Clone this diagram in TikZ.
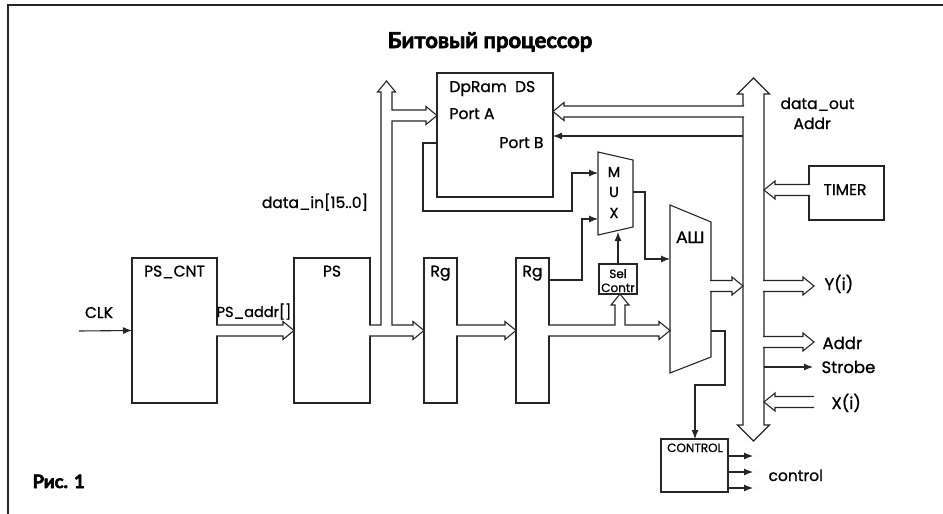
\documentclass[tikz,border=0pt]{standalone}
\usepackage{fontspec}
\setmainfont{Poppins}[FakeBold=1]
\newfontfamily\cyrfont{Lato}[FakeBold=1.5]
\newfontfamily\headfont{Lato}[FakeBold=3]
\usepackage{tikz}
\usetikzlibrary{arrows.meta,calc}
% hollow bus arrow: start, tip, direction (1 = right, -1 = left)
\newcommand{\hbus}[3]{%
  \filldraw[bus] let \p1=#1, \p2=#2 in
    (\x1,{\y2+5.5pt}) -- ({\x2-(#3)*11pt},{\y2+5.5pt}) -- ({\x2-(#3)*11pt},{\y2+9pt})
    -- (\x2,\y2) -- ({\x2-(#3)*11pt},{\y2-9pt}) -- ({\x2-(#3)*11pt},{\y2-5.5pt})
    -- (\x1,{\y2-5.5pt});}

\begin{document}
\begin{tikzpicture}[x=1pt, y=-1pt, line width=1.1pt, color=black!85, text=black,
    font=\fontsize{15.5}{18}\selectfont, >={Latex[length=9pt,width=7pt]},
    box/.style={draw, inner sep=0pt, outer sep=0pt},
    lbl/.style={anchor=base, yshift=-18.5pt, inner sep=0pt},
    txt/.style={inner sep=0pt, anchor=base},
    big/.style={inner sep=0pt, anchor=base west, font=\fontsize{16.5}{19}\selectfont},
    small/.style={inner sep=0pt, anchor=base, font=\fontsize{12}{13}\selectfont},
    bus/.style={fill=white}]
  \useasboundingbox (0,0) rectangle (943,514);
  % frame and captions
  \draw (8,514) -- (8,5) -- (943,5);
  \node[txt, font=\headfont\bfseries\fontsize{22}{24}\selectfont] (title) at (490,48) {Битовый процессор};
  \node[txt, anchor=base west, font=\headfont\bfseries\fontsize{18.5}{20}\selectfont] (fig) at (32,488) {Рис. 1};

  % blocks
  \node[box, minimum width=85pt, minimum height=145pt, label={[lbl]north:PS\_CNT}] (pscnt) at (174.5,330.5) {};
  \node[box, minimum width=76pt, minimum height=145pt, label={[lbl]north:PS}] (ps) at (332,330.5) {};
  \node[box, minimum width=33pt, minimum height=145pt, label={[lbl]north:Rg}] (rg1) at (440.5,330.5) {};
  \node[box, minimum width=33pt, minimum height=145pt, label={[lbl]north:Rg}] (rg2) at (532.5,330.5) {};
  \node[box, minimum width=116pt, minimum height=124pt] (dpram) at (495,135) {};
  \node[box, minimum width=75pt, minimum height=54pt] (timer) at (846.5,193) {};
  \node[box, minimum width=38pt, minimum height=30pt] (sel) at (618,279) {};
  \node[box, minimum width=67pt, minimum height=53pt] (ctrl) at (694.5,465.5) {};
  \node[txt] (timerlbl) at (845,195) {TIMER};
  \node[small] (sellbl) at (618,278) {Sel};
  \node[small] (contrlbl) at (618,292) {Contr};
  \node[small] (ctrllbl) at (695,452) {CONTROL};
  \node[txt, anchor=base west] (dplbl) at (449,92) {DpRam\ \ DS};
  \node[txt, anchor=base west] (porta) at (449,119) {Port A};
  \node[txt, anchor=base east] (portb) at (544,148) {Port B};

  % mux and shifter
  \draw (598,152) -- (633,160) -- (633,227) -- (598,235) -- cycle;
  \foreach \c/\y in {M/177,U/197,X/218}
    \node[txt, font=\fontsize{14.5}{16}\selectfont] (mux\c) at (614,\y) {\c};
  \draw (670,205) -- (711,222) -- (711,357) -- (670,373) -- cycle;
  \node[txt, font=\cyrfont\fontsize{16}{18}\selectfont] (ash) at (690.5,243) {АШ};

  % output bus
  \coordinate (busL) at (743,0);
  \coordinate (busR) at (764,0);
  \filldraw[bus] (743,94) -- (737.5,94) -- (753.5,78) -- (769.5,94) -- (764,94) -- (764,425)
    -- (769.5,425) -- (753.5,441) -- (737.5,425) -- (743,425) -- cycle;

  % buses
  \filldraw[bus] (369,325) -- (381,325) -- (381,92) -- (377.5,92) -- (386.5,81) -- (395.5,92)
    -- (392,92) -- (392,110) -- (426,110) -- (426,106.5) -- (437,115.5) -- (426,124.5)
    -- (426,121) -- (392,121) -- (392,325) -- (413,325) -- (413,321.5) -- (424,330.5)
    -- (413,339.5) -- (413,336) -- (369,336);
  \hbus{([xshift=-1pt]pscnt.east)}{(ps.west)}{1}
  \hbus{([xshift=-1pt]rg1.east)}{(rg2.west)}{1}
  \filldraw[bus] (548,325) -- (615,325) -- (615,305) -- (611,305) -- (620,294) -- (629,305)
    -- (625,305) -- (625,325) -- (659,325) -- (659,321.5) -- (670,330.5) -- (659,339.5)
    -- (659,336) -- (548,336);
  \hbus{(744,111.5)}{(dpram.east |- 0,111.5)}{-1}
  \hbus{(710,286)}{(busL |- 0,286)}{1}
  \hbus{(763,286)}{(814,286)}{1}
  \hbus{(763,342)}{(814,342)}{1}
  \hbus{(814,402)}{(busR |- 0,402)}{-1}
  \hbus{([xshift=1pt]timer.west |- 0,190)}{(busR |- 0,190)}{-1}

  % signals
  \draw[->] (79,331) -- (pscnt.west);
  \draw[->] (busL |- 0,136) -- (dpram.east |- 0,136);
  \draw[->] (dpram.west |- 0,143) -- (423,143) -- (423,211) -- (572,211) -- (572,173) -- (598,173);
  \draw[->] (rg2.east |- 0,280) -- (582,280) -- (582,219) -- (598,219);
  \draw[->] (sel.north) -- (618,232);
  \draw[->] (633,192) -- (645,192) -- (645,259) -- (670,259);
  \draw[->] (711,331) -- (725,331) -- (725,385) -- (695,385) -- (ctrl.north -| 695,0);
  \draw[->] (busR |- 0,367) -- (813,367);
  \foreach \y in {456,472,488}
    \draw[->] (ctrl.east |- 0,\y) -- (753,\y);

  % labels
  \node[txt] (clk) at (99,318) {CLK};
  \node[txt, font=\fontsize{14.5}{17}\selectfont] (psaddr) at (254,317) {PS\_addr[]};
  \node[txt] (datain) at (315,208) {data\_in[15..0]};
  \node[txt, anchor=base west] (dout) at (780,109) {data\_out};
  \node[txt, anchor=base west] (addrin) at (793,129) {Addr};
  \node[big] (yi) at (824,290) {Y(i)};
  \node[big] (addrout) at (822,349) {Addr};
  \node[big] (strobe) at (821,373) {Strobe};
  \node[big] (xi) at (831,409) {X(i)};
  \node[txt, anchor=base west] (ctrlout) at (768,481) {control};
\end{tikzpicture}
\end{document}
